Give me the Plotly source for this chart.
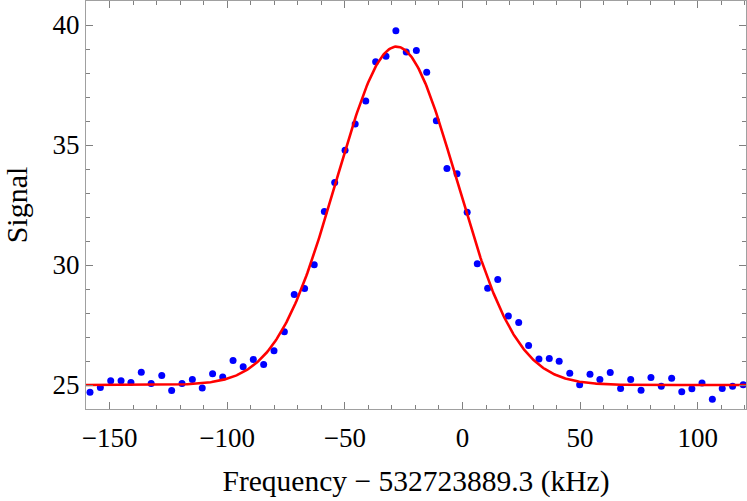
import numpy as np
import plotly.graph_objects as go

# Measured data points
freq = [-158.3, -153.9, -149.5, -145.1, -140.9, -136.5, -132.3, -127.8, -123.6, -119.2,
        -114.8, -110.6, -106.2, -101.9, -97.5, -93.2, -88.9, -84.5, -80.1, -75.7,
        -71.5, -67.1, -63.0, -58.7, -54.3, -49.9, -45.6, -41.1, -36.9, -32.5,
        -28.3, -23.9, -19.6, -15.2, -11.1, -6.6, -2.3, 2.0, 6.3, 10.7,
        15.0, 19.5, 23.9, 28.1, 32.5, 36.9, 41.1, 45.6, 49.8, 54.2,
        58.4, 62.8, 67.2, 71.5, 75.9, 80.1, 84.5, 88.9, 93.2, 97.5,
        101.8, 106.2, 110.4, 114.8, 119.3]
signal = [24.70, 24.90, 25.18, 25.18, 25.10, 25.53, 25.06, 25.40, 24.77, 25.06,
          25.23, 24.87, 25.47, 25.33, 26.02, 25.76, 26.06, 25.85, 26.43, 27.22,
          28.77, 29.02, 30.01, 32.23, 33.44, 34.78, 35.88, 36.83, 38.47, 38.70,
          39.76, 38.87, 38.94, 38.03, 36.01, 34.02, 33.80, 32.20, 30.05, 29.03,
          29.40, 27.88, 27.60, 26.65, 26.08, 26.10, 25.99, 25.49, 25.01, 25.45,
          25.23, 25.52, 24.85, 25.23, 24.78, 25.31, 24.95, 25.28, 24.72, 24.84,
          25.08, 24.41, 24.85, 24.95, 25.01]

# Gaussian fit parameters
fit_offset = 25.0
fit_amp = 14.1
fit_center = -28.0
fit_sigma = 25.5

x_ticks = [-150, -100, -50, 0, 50, 100]
x_tick_text = ["\u2212150", "\u2212100", "\u221250", "0", "50", "100"]
y_ticks = [25, 30, 35, 40]
y_tick_text = ["25", "30", "35", "40"]

xf = np.linspace(-160, 120.5, 600)
yf = fit_offset + fit_amp * np.exp(-(xf - fit_center) ** 2 / (2 * fit_sigma ** 2))

fig = go.Figure()
fig.add_trace(go.Scatter(x=freq, y=signal, mode="markers",
                         marker=dict(color="#0000ff", size=7, line=dict(width=0)),
                         showlegend=False, cliponaxis=True))
fig.add_trace(go.Scatter(x=xf, y=yf, mode="lines",
                         line=dict(color="#ff0000", width=2.6),
                         showlegend=False))

font_family = "Liberation Serif, Times New Roman, serif"
axis_common = dict(
    showline=True, linecolor="#a0a0a0", linewidth=1, mirror="allticks",
    ticks="inside", ticklen=7, tickwidth=1, tickcolor="#808080",
    showgrid=False, zeroline=False, automargin=False,
    tickfont=dict(family=font_family, size=27, color="black"),
)

fig.update_xaxes(
    range=[-160, 120.5], tickvals=x_ticks, ticktext=x_tick_text,
    minor=dict(dtick=10, tick0=0, ticks="inside", ticklen=4, tickcolor="#808080", showgrid=False),
    title=dict(text="Frequency \u2212 532723889.3 (kHz)", font=dict(family=font_family, size=29.5, color="black"),
               standoff=17),
    ticklabelstandoff=5,
    **axis_common,
)
fig.update_yaxes(
    range=[24.0, 41.0], tickvals=y_ticks, ticktext=y_tick_text,
    minor=dict(dtick=1, tick0=0, ticks="inside", ticklen=4, tickcolor="#808080", showgrid=False),
    title=dict(text="Signal", font=dict(family=font_family, size=30, color="black"), standoff=17),
    ticklabelstandoff=0,
    **axis_common,
)

fig.update_layout(
    width=747, height=501,
    margin=dict(l=86, r=1, t=1, b=92),
    paper_bgcolor="white", plot_bgcolor="white",
)

fig.write_html("out.html", post_script="document.body.style.margin='0';",
               config={"displayModeBar": False})
